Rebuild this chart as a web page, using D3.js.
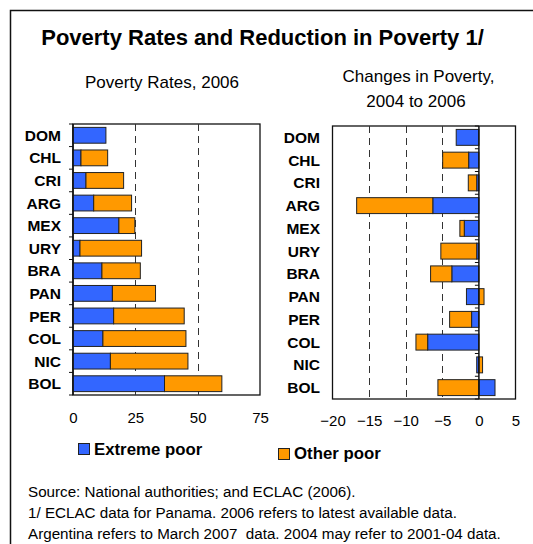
<!DOCTYPE html>
<html>
<head>
<meta charset="utf-8">
<script src="https://cdn.jsdelivr.net/npm/d3@7/dist/d3.min.js"></script>
<style>
  html, body { margin: 0; padding: 0; background: #fff; }
  svg { display: block; font-family: "Liberation Sans", Arial, sans-serif; }
</style>
</head>
<body>
<svg id="chart" width="533" height="544"></svg>
<script>
// Countries, top to bottom
const countries = ["DOM", "CHL", "CRI", "ARG", "MEX", "URY", "BRA", "PAN", "PER", "COL", "NIC", "BOL"];

// Poverty rates 2006 (percent of population)
const extremePoor2006 = [13.2, 3.2, 5.2, 8.3, 18.4, 2.8, 11.6, 15.8, 16.3, 12.0, 15.0, 36.7];
const otherPoor2006   = [0.0, 10.7, 15.1, 15.2, 6.4, 24.7, 15.4, 17.3, 28.3, 33.3, 31.1, 23.0];

// Change in poverty rates, 2004 to 2006 (percentage points)
const extremePoorChange = [-3.1, -1.4, -0.3, -6.3, -2.0, -0.3, -3.7, -1.7, -1.0, -7.0, -0.3, 2.2];
const otherPoorChange   = [0.0, -3.55, -1.15, -10.4, -0.6, -4.9, -2.9, 0.7, -3.0, -1.6, 0.5, -5.6];

const leftTicks = [0, 25, 50, 75];
const rightTicks = [-20, -15, -10, -5, 0, 5];

const seriesKeys = ["extreme", "other"];
const seriesNames = { extreme: "Extreme poor", other: "Other poor" };
const colors = { extreme: "#3366FF", other: "#FF9900" };

const svg = d3.select("#chart");

// Outer frame
svg.append("rect")
  .attr("x", 10.5).attr("y", 10.5)
  .attr("width", 540).attr("height", 560)
  .attr("fill", "none").attr("stroke", "#111").attr("stroke-width", 1.5);

svg.append("text")
  .attr("x", 262.5).attr("y", 45)
  .attr("text-anchor", "middle")
  .attr("font-size", 22).attr("font-weight", "bold")
  .text("Poverty Rates and Reduction in Poverty 1/");

svg.append("text")
  .attr("x", 162).attr("y", 88)
  .attr("text-anchor", "middle").attr("font-size", 17)
  .text("Poverty Rates, 2006");

svg.append("text")
  .attr("x", 418.5).attr("y", 82)
  .attr("text-anchor", "middle").attr("font-size", 17)
  .text("Changes in Poverty,");
svg.append("text")
  .attr("x", 416).attr("y", 107)
  .attr("text-anchor", "middle").attr("font-size", 17)
  .text("2004 to 2006");

function makeRows(ex, ot) {
  return countries.map((c, i) => ({ country: c, extreme: ex[i], other: ot[i] }));
}

function drawPanel(opts) {
  const rows = makeRows(opts.ex, opts.ot);
  const x = d3.scaleLinear().domain(opts.domain).range([opts.x0, opts.x1]);
  const y = d3.scaleBand().domain(countries).range([opts.y0, opts.y1]).paddingInner(0.3).paddingOuter(0.15);
  const g = svg.append("g");

  const stacked = d3.stack().keys(seriesKeys).offset(d3.stackOffsetDiverging)(rows);

  // Plot box
  g.append("rect")
    .attr("x", opts.x0).attr("y", opts.y0)
    .attr("width", opts.x1 - opts.x0).attr("height", opts.y1 - opts.y0)
    .attr("fill", "none").attr("stroke", "#111").attr("stroke-width", 1.3);

  // Dashed gridlines
  g.selectAll("line.grid").data(opts.grid).join("line")
    .attr("class", "grid")
    .attr("x1", d => Math.round(x(d)) + 0.5).attr("x2", d => Math.round(x(d)) + 0.5)
    .attr("y1", opts.y0).attr("y2", opts.y1)
    .attr("stroke", "#333").attr("stroke-width", 1)
    .attr("stroke-dasharray", "7,5");

  // Bars
  g.selectAll("g.series").data(stacked).join("g")
    .attr("class", "series")
    .attr("fill", d => colors[d.key])
    .selectAll("rect").data(d => d.filter(p => p[1] !== p[0])).join("rect")
    .attr("x", p => x(Math.min(p[0], p[1])))
    .attr("width", p => Math.abs(x(p[1]) - x(p[0])))
    .attr("y", p => y(p.data.country))
    .attr("height", y.bandwidth())
    .attr("stroke", "#222").attr("stroke-width", 1);

  // Category axis with ticks at band boundaries
  const axisX = x(opts.axisAt);
  const bounds = d3.range(countries.length + 1).map(i => opts.y0 + i * (opts.y1 - opts.y0) / countries.length);
  g.append("line")
    .attr("x1", axisX).attr("x2", axisX)
    .attr("y1", opts.y0).attr("y2", opts.y1)
    .attr("stroke", "#111").attr("stroke-width", 1.5);
  g.selectAll("line.ctick").data(bounds).join("line")
    .attr("class", "ctick")
    .attr("x1", axisX - 4).attr("x2", axisX)
    .attr("y1", d => d).attr("y2", d => d)
    .attr("stroke", "#111").attr("stroke-width", 1);

  // Category labels
  g.selectAll("text.cat").data(countries).join("text")
    .attr("class", "cat")
    .attr("x", opts.labelX)
    .attr("y", d => y(d) + y.bandwidth() / 2)
    .attr("dy", "0.36em")
    .attr("text-anchor", "end")
    .attr("font-size", 15.5).attr("font-weight", "bold")
    .text(d => d);

  // Value axis labels
  const ax = d3.axisBottom(x).tickValues(opts.ticks).tickSize(0).tickPadding(0);
  const axG = g.append("g").attr("transform", `translate(0,${opts.tickY})`).call(ax);
  axG.select(".domain").remove();
  axG.selectAll("text")
    .attr("dy", null)
    .attr("font-size", 15)
    .attr("font-family", "'Liberation Sans', Arial, sans-serif")
    .attr("fill", "#000");
}

drawPanel({
  ex: extremePoor2006, ot: otherPoor2006,
  domain: [0, 75], x0: 73, x1: 260, y0: 124, y1: 395,
  grid: [25, 50], axisAt: 0, labelX: 61, ticks: leftTicks, tickY: 423
});

drawPanel({
  ex: extremePoorChange, ot: otherPoorChange,
  domain: [-20, 5], x0: 332.5, x1: 515.5, y0: 126, y1: 399,
  grid: [-15, -10, -5], axisAt: 0, labelX: 320, ticks: rightTicks, tickY: 426
});

// Legend
const legend = [
  { key: "extreme", x: 78, y: 443, ty: 455 },
  { key: "other", x: 278, y: 448, ty: 459 }
];
const lg = svg.append("g");
lg.selectAll("rect").data(legend).join("rect")
  .attr("x", d => d.x + 0.5).attr("y", d => d.y + 0.5)
  .attr("width", 11).attr("height", 11)
  .attr("fill", d => colors[d.key]).attr("stroke", "#222").attr("stroke-width", 1);
lg.selectAll("text").data(legend).join("text")
  .attr("x", d => d.x + 16).attr("y", d => d.ty)
  .attr("font-size", 16.8).attr("font-weight", "bold")
  .text(d => seriesNames[d.key]);

// Notes
const notes = [
  "Source: National authorities; and ECLAC (2006).",
  "1/ ECLAC data for Panama. 2006 refers to latest available data.",
  "Argentina refers to March 2007  data. 2004 may refer to 2001-04 data."
];
svg.selectAll("text.note").data(notes).join("text")
  .attr("class", "note")
  .attr("x", 28).attr("y", (d, i) => 497 + i * 21)
  .attr("font-size", 15.2)
  .attr("xml:space", "preserve")
  .style("white-space", "pre")
  .text(d => d);
</script>
</body>
</html>
